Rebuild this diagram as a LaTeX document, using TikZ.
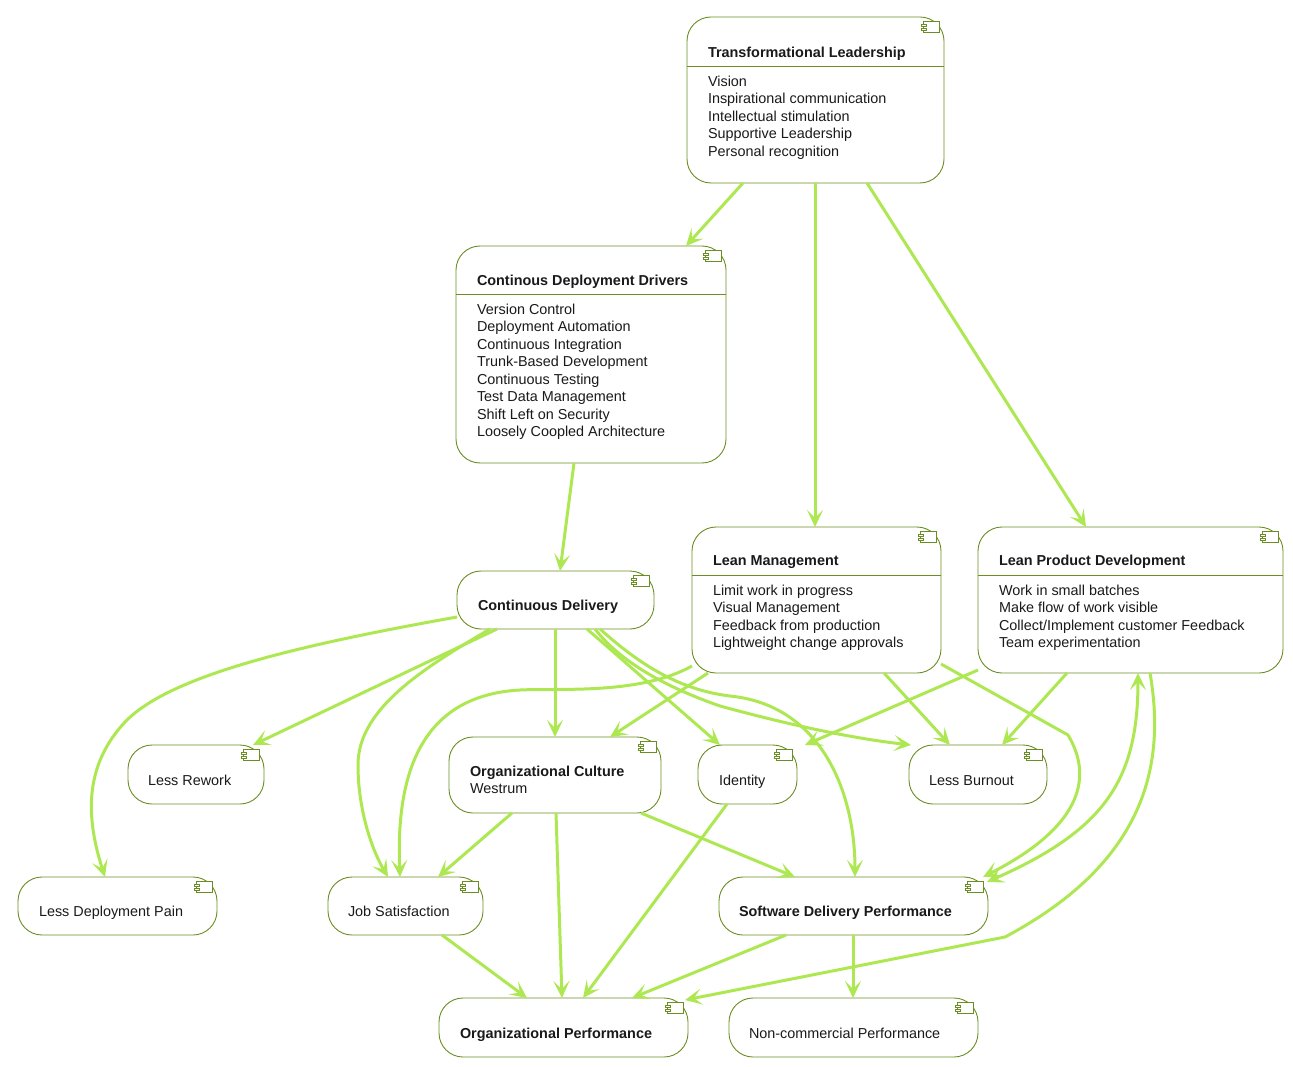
\documentclass[tikz,border=0pt]{standalone}
\usepackage{fontspec}
\setmainfont{Liberation Sans}
\usetikzlibrary{arrows.meta,calc}
\definecolor{boxline}{HTML}{6B8E23}
\definecolor{edgeline}{HTML}{ADE852}
\definecolor{txt}{HTML}{1A1A1A}
\tikzset{
 compbox/.style={draw=boxline,line width=0.9pt,fill=white,rounded corners=24pt,anchor=north west,inner sep=0pt,outer sep=0pt},
 bt/.style={anchor=base west,inner sep=0pt,outer sep=0pt,text=txt,font=\fontsize{14.4}{17.5}\selectfont\bfseries},
 lt/.style={anchor=base west,inner sep=0pt,outer sep=0pt,text=txt,font=\fontsize{14.4}{17.5}\selectfont},
 lst/.style={anchor=north west,inner sep=0pt,outer sep=0pt,text=txt,align=left,font=\fontsize{14.4}{17.5}\selectfont},
 icon/.style={draw=boxline,line width=0.8pt,fill=white},
 divider/.style={draw=boxline,line width=0.9pt},
 conn/.style={draw=edgeline,line width=3pt,-{Stealth[length=17pt,width=16pt,inset=8pt]}},
 conb/.style={draw=edgeline,line width=3pt,{Stealth[length=17pt,width=16pt,inset=8pt]}-{Stealth[length=17pt,width=16pt,inset=8pt]}},
}
% name, x1, y1, x2, y2
\newcommand{\comp}[5]{%
 \pgfmathsetmacro{\cw}{#4-#2}\pgfmathsetmacro{\ch}{#5-#3}%
 \node[compbox,minimum width=\cw pt,minimum height=\ch pt] (#1) at (#2,#3) {};
 \draw[icon] (#4-21,#3+4) rectangle (#4-5,#3+15);
 \draw[icon] (#4-23,#3+7) rectangle (#4-18,#3+9.5);
 \draw[icon] (#4-23,#3+11) rectangle (#4-18,#3+13.5);
}
\begin{document}
\begin{tikzpicture}[x=1pt,y=-1pt]
\useasboundingbox (0,0) rectangle (1293,1067);
\comp{tl}{687}{17}{944}{183}
\draw[divider] (687,66) -- (944,66);
\node[bt] (tlt) at (708,57.5) {Transformational Leadership};
\node[lst] (tlb) at (708,76) {Vision\\Inspirational communication\\Intellectual stimulation\\Supportive Leadership\\Personal recognition};
\comp{cdd}{456}{246}{726}{463}
\draw[divider] (456,294) -- (726,294);
\node[bt] (cddt) at (477,285.5) {Continous Deployment Drivers};
\node[lst] (cddb) at (477,304) {Version Control\\Deployment Automation\\Continuous Integration\\Trunk-Based Development\\Continuous Testing\\Test Data Management\\Shift Left on Security\\Loosely Coopled Architecture};
\comp{cd}{457}{571}{654}{629}
\node[bt] (cdt) at (478,610) {Continuous Delivery};
\comp{lm}{692}{527}{941}{673}
\draw[divider] (692,575) -- (941,575);
\node[bt] (lmt) at (713,565.5) {Lean Management};
\node[lst] (lmb) at (713,585) {Limit work in progress\\Visual Management\\Feedback from production\\Lightweight change approvals};
\comp{lpd}{978}{527}{1283}{673}
\draw[divider] (978,575) -- (1283,575);
\node[bt] (lpdt) at (999,565.5) {Lean Product Development};
\node[lst] (lpdb) at (999,585) {Work in small batches\\Make flow of work visible\\Collect/Implement customer Feedback\\Team experimentation};
\comp{lr}{128}{745}{264}{804}
\node[lt] (lrt) at (148,785) {Less Rework};
\comp{oc}{449}{737}{661}{813}
\node[bt] (oct) at (470,776) {Organizational Culture};
\node[lt] (ocb) at (470,793) {Westrum};
\comp{id}{698}{745}{797}{804}
\node[lt] (idt) at (719,785) {Identity};
\comp{lb}{909}{745}{1047}{804}
\node[lt] (lbt) at (929,785) {Less Burnout};
\comp{ldp}{18}{877}{217}{935}
\node[lt] (ldpt) at (39,916) {Less Deployment Pain};
\comp{js}{328}{877}{483}{935}
\node[lt] (jst) at (348,916) {Job Satisfaction};
\comp{sdp}{719}{877}{988}{935}
\node[bt] (sdpt) at (739,916) {Software Delivery Performance};
\comp{op}{439}{998}{688}{1057}
\node[bt] (opt) at (460,1038) {Organizational Performance};
\comp{ncp}{729}{998}{978}{1057}
\node[lt] (ncpt) at (749,1038) {Non-commercial Performance};
% connectors
\draw[conn] ([xshift=56pt]tl.south west) -- ([xshift=230pt]cdd.north west);
\draw[conn] ([xshift=128pt]tl.south west) -- ([xshift=123pt]lm.north west);
\draw[conn] ([xshift=180pt]tl.south west) -- ([xshift=108pt]lpd.north west);
\draw[conn] ([xshift=118pt]cdd.south west) -- ([xshift=103pt]cd.north west);
\draw[conn] ([yshift=-17pt]cd.west) .. controls (300,645) and (170,675) .. (125,722) .. controls (85,765) and (85,815) .. ([xshift=87pt]ldp.north west);
\draw[conn] ([xshift=40pt]cd.south west) -- ([xshift=125pt]lr.north west);
\draw[conn] ([xshift=33pt]cd.south west) .. controls (420,670) and (358,710) .. (358,765) .. controls (358,810) and (372,850) .. ([xshift=60pt]js.north west);
\draw[conn] ([xshift=98pt]cd.south west) -- ([xshift=106pt]oc.north west);
\draw[conn] ([xshift=130pt]cd.south west) -- ([xshift=22pt]id.north west);
\draw[conn] ([xshift=138pt]cd.south west) .. controls (625,668) and (680,692) .. (720,706) .. controls (790,725) and (850,738) .. ([xshift=2pt]lb.north west);
\draw[conn] ([xshift=143pt]cd.south west) .. controls (640,665) and (680,690) .. (730,696) .. controls (820,705) and (855,790) .. ([xshift=136pt]sdp.north west);
\draw[conn] ([yshift=-66pt]lm.west) .. controls (640,695) and (560,688) .. (520,690) .. controls (430,695) and (395,760) .. ([xshift=72pt]js.north west);
\draw[conn] ([xshift=16pt]lm.south west) -- ([xshift=161pt]oc.north west);
\draw[conn] ([yshift=-64pt]lm.east) -- (1068,735) .. controls (1092,775) and (1085,825) .. ([xshift=-5pt]sdp.north east);
\draw[conn] ([xshift=192pt]lm.south west) -- ([xshift=41pt]lb.north west);
\draw[conn] ([yshift=-70pt]lpd.west) -- ([xshift=107pt]id.north west);
\draw[conn] ([xshift=89pt]lpd.south west) -- ([xshift=93pt]lb.north west);
\draw[conb] ([xshift=160pt]lpd.south west) .. controls (1138,780) and (1105,830) .. ([xshift=-1pt,yshift=-5pt]sdp.north east);
\draw[conn] ([xshift=172pt]lpd.south west) .. controls (1165,760) and (1150,860) .. (1005,937) -- ([xshift=-3pt,yshift=-2pt]op.north east);
\draw[conn] ([xshift=63pt]oc.south west) -- ([xshift=110pt]js.north west);
\draw[conn] ([xshift=192pt]oc.south west) -- ([xshift=76pt]sdp.north west);
\draw[conn] ([xshift=107pt]oc.south west) -- ([xshift=123pt]op.north west);
\draw[conn] ([xshift=29pt]id.south west) -- ([xshift=144pt]op.north west);
\draw[conn] ([xshift=114pt]js.south west) -- ([xshift=88pt]op.north west);
\draw[conn] ([xshift=67pt]sdp.south west) -- ([xshift=193pt]op.north west);
\draw[conn] ([xshift=134pt]sdp.south west) -- ([xshift=124pt]ncp.north west);
\end{tikzpicture}
\end{document}
